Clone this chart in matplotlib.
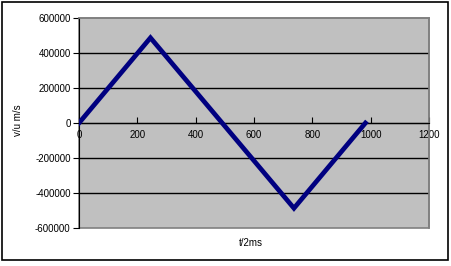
import matplotlib.pyplot as plt
from matplotlib.patches import Rectangle

# === Data ===
t = [0, 245, 737, 982]
v = [0, 487000, -487000, 0]

x_ticks = [0, 200, 400, 600, 800, 1000, 1200]
y_ticks = [-600000, -400000, -200000, 0, 200000, 400000, 600000]

plt.rcParams['font.family'] = ['Liberation Sans', 'DejaVu Sans']
plt.rcParams['font.size'] = 7

W, H = 452, 266
fig = plt.figure(figsize=(W / 100, H / 100), dpi=100)

# outer chart frame
fig.patches.append(Rectangle((2 / W, 6 / H), 446 / W, 258 / H, transform=fig.transFigure,
                             fill=False, edgecolor='black', linewidth=1.2))

ax = fig.add_axes([79 / W, 38 / H, 350 / W, 210 / H])
ax.set_facecolor('#C0C0C0')

ax.plot(t, v, color='#000080', linewidth=3.4, solid_joinstyle='miter', zorder=3)

ax.set_xlim(0, 1200)
ax.set_ylim(-600000, 600000)
ax.set_xticks(x_ticks)
ax.set_yticks(y_ticks)
ax.set_xticklabels([str(x) for x in x_ticks])
ax.set_yticklabels([str(y) for y in y_ticks])

# gridlines (not on the plot border)
ax.grid(axis='y', color='black', linewidth=1)
gl = ax.yaxis.get_gridlines()
gl[0].set_visible(False)
gl[-1].set_visible(False)
ax.set_axisbelow(True)

# spines: gray plot border, black left axis, x axis at zero
for s in ['top', 'right']:
    ax.spines[s].set_color('#808080')
    ax.spines[s].set_linewidth(1.2)
ax.spines['left'].set_color('black')
ax.spines['bottom'].set_position(('data', 0))
ax.spines['bottom'].set_color('black')
ax.add_patch(Rectangle((0, 0), 1, 1, transform=ax.transAxes, fill=False,
                       edgecolor='#808080', linewidth=1.2, zorder=0.5, clip_on=False))

ax.tick_params(axis='x', direction='in', length=4, pad=5, color='black')
ax.tick_params(axis='y', direction='out', length=4, pad=2, color='black')

fig.text(18 / W, 1 - 120 / H, 'v/u m/s', rotation=90, ha='center', va='center')
fig.text(251 / W, 1 - 243 / H, 't/2ms', ha='center', va='center')

fig.savefig('out.png', dpi=100)
